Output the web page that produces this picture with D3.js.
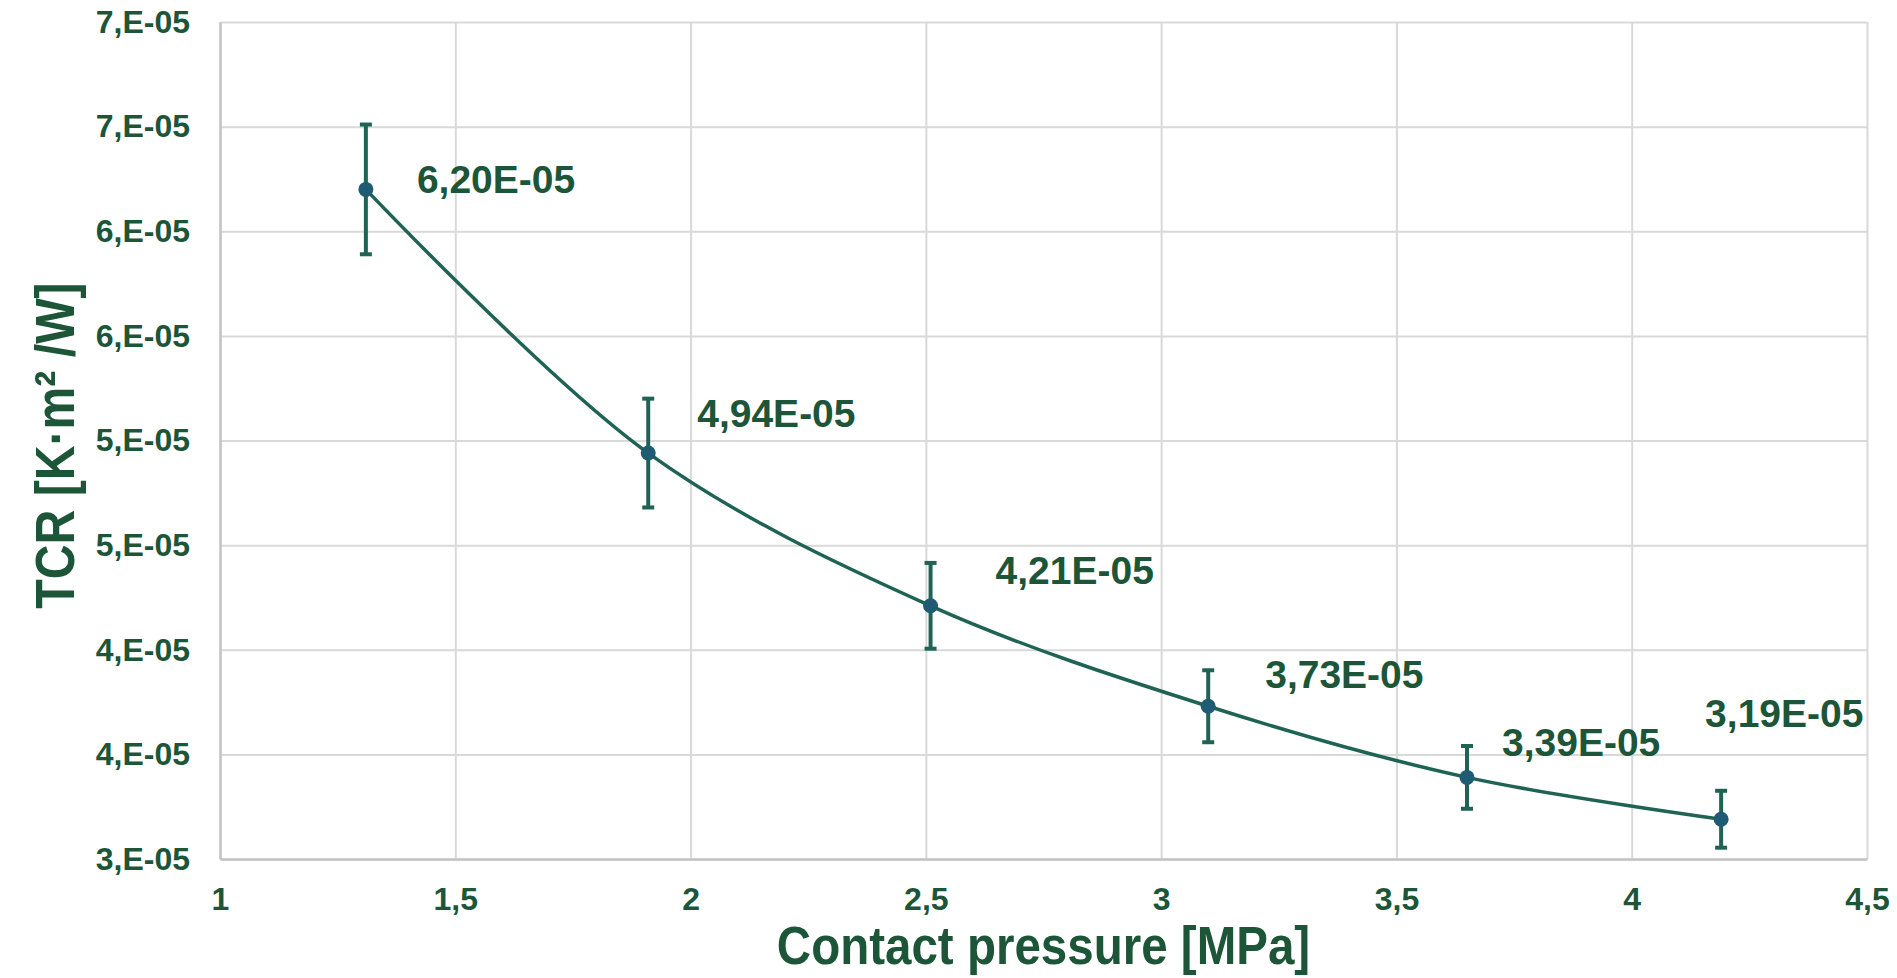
<!DOCTYPE html>
<html>
<head>
<meta charset="utf-8">
<script src="https://cdn.jsdelivr.net/npm/d3@7"></script>
<style>
  html, body { margin: 0; padding: 0; background: #fff; }
  svg { display: block; font-family: "Liberation Sans", Arial, sans-serif; }
</style>
</head>
<body>
<svg id="viz" width="1897" height="978"></svg>
<script>
// Contact pressure [MPa] vs TCR [K·m²/W] (values in units of 1E-05)
const pressure = [1.31, 1.91, 2.51, 3.10, 3.65, 4.19];
const tcr      = [6.20, 4.94, 4.21, 3.73, 3.39, 3.19];
const tcrErr   = [0.31, 0.26, 0.205, 0.172, 0.15, 0.136];
const tcrLabels = ["6,20E-05", "4,94E-05", "4,21E-05", "3,73E-05", "3,39E-05", "3,19E-05"];

// axis ticks
const xTicks = [1, 1.5, 2, 2.5, 3, 3.5, 4, 4.5];
const yTicks = [3, 3.5, 4, 4.5, 5, 5.5, 6, 6.5, 7];

// where each data label sits relative to its point (hand placed in the original)
const labelDx = [51, 49, 65, 57, 35, -16];
const labelDy = [4, -26, -22, -18, -21, -92];

const W = 1897, H = 978, M = {t:22, r:30, b:119, l:220};
const innerW = W - M.l - M.r, innerH = H - M.t - M.b;

const TEXT = "#1c5537", LINE = "#1f6354", DOT = "#1f5b72";

const svg = d3.select("#viz");
const g = svg.append("g").attr("transform", `translate(${M.l},${M.t})`);

const x = d3.scaleLinear().domain([1, 4.5]).range([0, innerW]);
const y = d3.scaleLinear().domain([3, 7]).range([innerH, 0]);

// y labels in the Excel "0,E-00" style: one significant digit
const fmtY = v => `${Math.round(v)},E-05`;
const fmtX = v => String(v).replace(".", ",");

// gridlines
g.append("g").attr("class", "grid x")
  .call(d3.axisBottom(x).tickValues(xTicks).tickSize(innerH).tickFormat(""))
  .call(s => s.select(".domain").remove())
  .call(s => s.selectAll("line").attr("stroke", "#d9d9d9").attr("stroke-width", 2));
g.append("g").attr("class", "grid y")
  .call(d3.axisLeft(y).tickValues(yTicks).tickSize(-innerW).tickFormat(""))
  .call(s => s.select(".domain").remove())
  .call(s => s.selectAll("line").attr("stroke", "#d9d9d9").attr("stroke-width", 2));

// axes
const gx = g.append("g").attr("transform", `translate(0,${innerH})`)
  .call(d3.axisBottom(x).tickValues(xTicks).tickSize(0).tickPadding(50).tickFormat(fmtX));
const gy = g.append("g")
  .call(d3.axisLeft(y).tickValues(yTicks).tickSize(0).tickPadding(30).tickFormat(fmtY));

[gx, gy].forEach(a => {
  a.select(".domain").attr("stroke", "#c4c4c4").attr("stroke-width", 2.5);
  a.selectAll("text")
    .attr("fill", TEXT)
    .style("font-size", "32px")
    .style("font-weight", "bold");
});
gx.selectAll("text").attr("dy", 0).attr("y", 51);

// axis titles (the original uses a slightly narrow bold face)
svg.append("text")
  .attr("transform", `translate(${M.l + innerW/2},964) scale(0.88,1)`)
  .attr("text-anchor", "middle")
  .attr("fill", TEXT)
  .style("font-size", "54px").style("font-weight", "bold")
  .text("Contact pressure [MPa]");

svg.append("text")
  .attr("transform", `translate(74,${M.t + innerH/2 + 5}) rotate(-90) scale(0.86,1)`)
  .attr("text-anchor", "middle")
  .attr("fill", TEXT)
  .style("font-size", "56px").style("font-weight", "bold")
  .text("TCR [K·m² /W]");

const pts = pressure.map((p, i) => ({x: p, y: tcr[i], e: tcrErr[i], label: tcrLabels[i], dx: labelDx[i], dy: labelDy[i]}));

// smoothed line
const line = d3.line().x(d => x(d.x)).y(d => y(d.y)).curve(d3.curveCatmullRom.alpha(0.5));
g.append("path").datum(pts)
  .attr("d", line)
  .attr("fill", "none")
  .attr("stroke", LINE)
  .attr("stroke-width", 3.5);

// error bars
const eb = g.selectAll("g.err").data(pts).join("g").attr("class", "err")
  .attr("stroke", LINE).attr("stroke-width", 4);
eb.append("line")
  .attr("x1", d => x(d.x)).attr("x2", d => x(d.x))
  .attr("y1", d => y(d.y + d.e)).attr("y2", d => y(d.y - d.e));
eb.append("line")
  .attr("x1", d => x(d.x) - 6).attr("x2", d => x(d.x) + 6)
  .attr("y1", d => y(d.y + d.e)).attr("y2", d => y(d.y + d.e));
eb.append("line")
  .attr("x1", d => x(d.x) - 6).attr("x2", d => x(d.x) + 6)
  .attr("y1", d => y(d.y - d.e)).attr("y2", d => y(d.y - d.e));

// markers
g.selectAll("circle.dot").data(pts).join("circle")
  .attr("class", "dot")
  .attr("cx", d => x(d.x)).attr("cy", d => y(d.y))
  .attr("r", 7.5)
  .attr("fill", DOT);

// data labels
g.selectAll("text.lbl").data(pts).join("text")
  .attr("class", "lbl")
  .attr("x", d => x(d.x) + d.dx)
  .attr("y", d => y(d.y) + d.dy)
  .attr("fill", TEXT)
  .style("font-size", "39px").style("font-weight", "bold")
  .text(d => d.label);
</script>
</body>
</html>
